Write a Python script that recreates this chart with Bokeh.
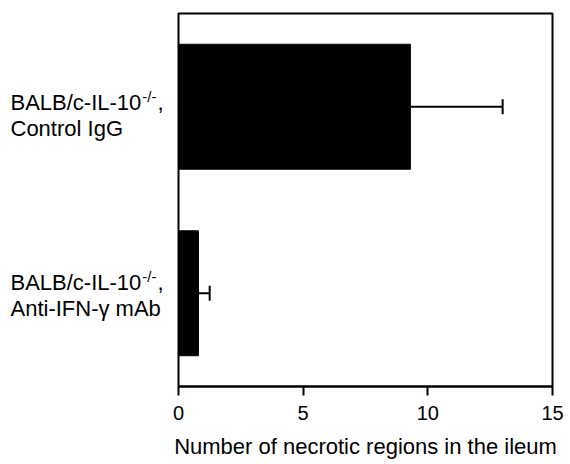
from bokeh.plotting import figure
from bokeh.layouts import row
from bokeh.models import Range1d, Whisker, TeeHead, ColumnDataSource, FixedTicker
from bokeh.core.properties import value
from bokeh.embed import file_html
from bokeh.resources import INLINE

# ---- data ----
group_line1 = ["BALB/c-IL-10", "BALB/c-IL-10"]
group_sup = ["-/-", "-/-"]
group_line2 = ["Control IgG", "Anti-IFN-\u03b3 mAb"]
means = [9.3, 0.8]
errors = [3.7, 0.45]
x_ticks = [0, 5, 10, 15]
x_title = "Number of necrotic regions in the ileum"

n = len(means)
ypos = [n - 1 - i for i in range(n)]
upper = [m + e for m, e in zip(means, errors)]

FONT = "Liberation Sans"
TOP, BOTTOM = 13, 78
LEFT_W = 166
yr = Range1d(-0.5, n - 0.5)

# ---- main plot ----
p = figure(width=570 - LEFT_W, height=464,
           x_range=Range1d(0, 15), y_range=yr,
           output_backend="svg", toolbar_location=None,
           min_border_left=178 - LEFT_W, min_border_right=18,
           min_border_top=TOP, min_border_bottom=BOTTOM)
p.background_fill_color = "white"
p.border_fill_color = "white"
p.outline_line_color = "black"
p.outline_line_width = 2
p.outline_line_alpha = 1.0
p.grid.visible = False
p.yaxis.visible = False

src = ColumnDataSource(dict(y=ypos, mean=means, hi=upper))
p.hbar(y="y", left=0, right="mean", height=0.67, source=src,
       fill_color="black", line_color="black")

w = Whisker(source=src, base="y", lower="mean", upper="hi", dimension="width",
            line_color="black", line_width=2, lower_head=None,
            upper_head=TeeHead(size=15, line_color="black", line_width=2))
p.add_layout(w)

ax = p.xaxis[0]
ax.ticker = FixedTicker(ticks=x_ticks)
ax.minor_tick_line_color = None
ax.axis_line_color = "black"
ax.axis_line_width = 2
ax.major_tick_line_color = "black"
ax.major_tick_line_width = 2
ax.major_tick_in = 0
ax.major_tick_out = 9
ax.major_label_standoff = 10
ax.major_label_text_font = FONT
ax.major_label_text_font_size = "20px"
ax.major_label_text_color = "black"
ax.axis_label = x_title
ax.axis_label_text_font = FONT
ax.axis_label_text_font_size = "22px"
ax.axis_label_text_font_style = "normal"
ax.axis_label_text_color = "black"
ax.axis_label_standoff = 11

# ---- left panel holding the category labels ----
q = figure(width=LEFT_W, height=464, x_range=Range1d(0, LEFT_W), y_range=yr,
           output_backend="svg", toolbar_location=None,
           min_border_left=0, min_border_right=0,
           min_border_top=TOP, min_border_bottom=BOTTOM)
q.axis.visible = False
q.grid.visible = False
q.outline_line_color = None
q.background_fill_color = "white"
q.border_fill_color = "white"

MAIN_PX = 22
SUP_PX = 15
X0 = 10
main_w = 5.947 * MAIN_PX
sup_w = 0.944 * SUP_PX
off1 = [-4, -11]    # baseline shift of first line
off2 = [22, 15]     # baseline shift of second line

def txt(xs, texts, yoffs, size):
    s = ColumnDataSource(dict(x=xs, y=ypos, t=texts, yo=yoffs))
    q.text(x="x", y="y", text="t", y_offset="yo", source=s,
           text_font=value(FONT), text_font_size=value(f"{size}px"),
           text_color="black", text_baseline="alphabetic", text_align="left")

txt([X0] * n, group_line1, off1, MAIN_PX)
txt([X0 + main_w + 1] * n, group_sup, [o - 6 for o in off1], SUP_PX)
txt([X0 + main_w + sup_w + 2] * n, [","] * n, off1, MAIN_PX)
txt([X0] * n, group_line2, off2, MAIN_PX)

layout = row(q, p, spacing=0)
open("out.html", "w").write(file_html(layout, INLINE))
